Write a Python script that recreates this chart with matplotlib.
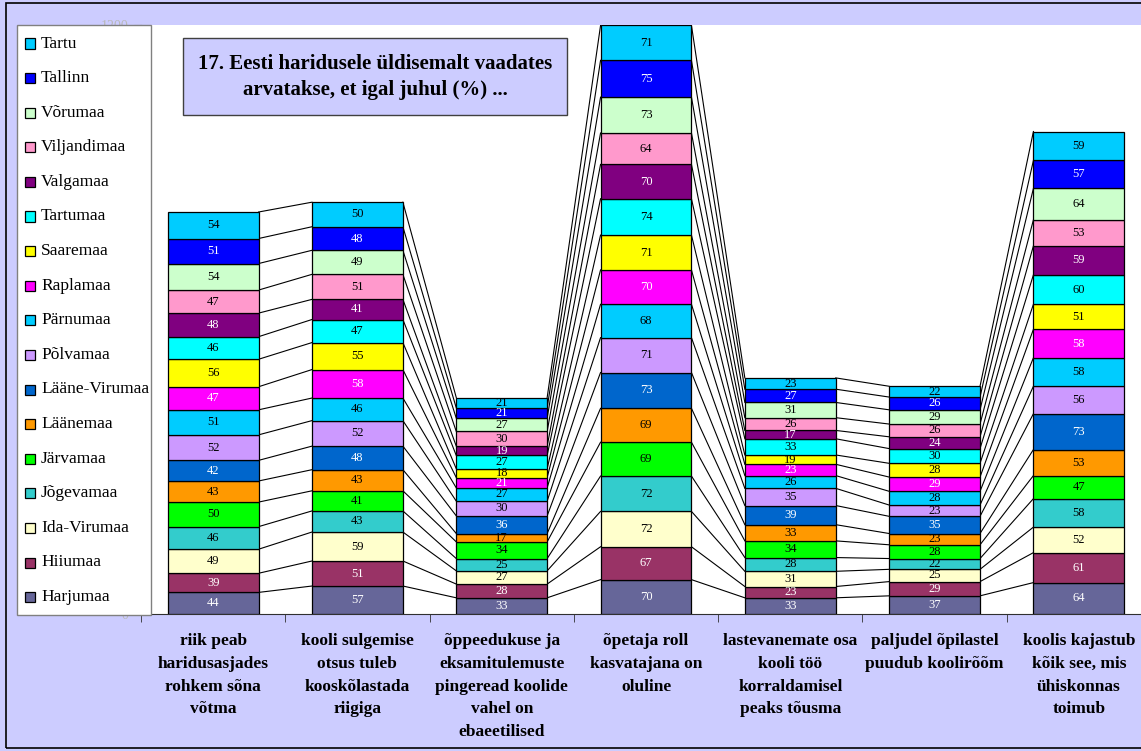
import matplotlib.pyplot as plt
from matplotlib.patches import Rectangle
import numpy as np

plt.rcParams['font.family'] = ['Liberation Serif', 'DejaVu Serif']

# regions, bottom of the stack first
regions = ['Harjumaa', 'Hiiumaa', 'Ida-Virumaa', 'Jõgevamaa', 'Järvamaa',
           'Läänemaa', 'Lääne-Virumaa', 'Põlvamaa', 'Pärnumaa', 'Raplamaa',
           'Saaremaa', 'Tartumaa', 'Valgamaa', 'Viljandimaa', 'Võrumaa',
           'Tallinn', 'Tartu']
colors = ['#666699', '#993366', '#FFFFCC', '#33CCCC', '#00FF00',
          '#FF9900', '#0066CC', '#CC99FF', '#00CCFF', '#FF00FF',
          '#FFFF00', '#00FFFF', '#800080', '#FF99CC', '#CCFFCC',
          '#0000FF', '#00CCFF']
dark = {'Harjumaa', 'Hiiumaa', 'Lääne-Virumaa', 'Raplamaa', 'Valgamaa', 'Tallinn'}

statements = ['riik peab\nharidusasjades\nrohkem sõna\nvõtma',
              'kooli sulgemise\notsus tuleb\nkooskõlastada\nriigiga',
              'õppeedukuse ja\neksamitulemuste\npingeread koolide\nvahel on\nebaeetilised',
              'õpetaja roll\nkasvatajana on\noluline',
              'lastevanemate osa\nkooli töö\nkorraldamisel\npeaks tõusma',
              'paljudel õpilastel\npuudub koolirõõm',
              'koolis kajastub\nkõik see, mis\nühiskonnas\ntoimub']

# percent per statement, one list per region (same order as regions)
harjumaa = [44, 57, 33, 70, 33, 37, 64]
hiiumaa = [39, 51, 28, 67, 23, 29, 61]
ida_virumaa = [49, 59, 27, 72, 31, 25, 52]
jogevamaa = [46, 43, 25, 72, 28, 22, 58]
jarvamaa = [50, 41, 34, 69, 34, 28, 47]
laanemaa = [43, 43, 17, 69, 33, 23, 53]
laane_virumaa = [42, 48, 36, 73, 39, 35, 73]
polvamaa = [52, 52, 30, 71, 35, 23, 56]
parnumaa = [51, 46, 27, 68, 26, 28, 58]
raplamaa = [47, 58, 21, 70, 23, 29, 58]
saaremaa = [56, 55, 18, 71, 19, 28, 51]
tartumaa = [46, 47, 27, 74, 33, 30, 60]
valgamaa = [48, 41, 19, 70, 17, 24, 59]
viljandimaa = [47, 51, 30, 64, 26, 26, 53]
vorumaa = [54, 49, 27, 73, 31, 29, 64]
tallinn = [51, 48, 21, 75, 27, 26, 57]
tartu = [54, 50, 21, 71, 23, 22, 59]

values = np.array([harjumaa, hiiumaa, ida_virumaa, jogevamaa, jarvamaa,
                   laanemaa, laane_virumaa, polvamaa, parnumaa, raplamaa,
                   saaremaa, tartumaa, valgamaa, viljandimaa, vorumaa,
                   tallinn, tartu])

W, H = 1141, 751
def fx(x):
    return x / W
def fy(y):
    return 1 - y / H

fig = plt.figure(figsize=(W / 100, H / 100), dpi=100)
fig.patch.set_facecolor('#CCCCFF')
fig.add_artist(Rectangle((fx(6), fy(748)), fx(1200), fy(3) - fy(748),
                         transform=fig.transFigure, fill=False,
                         edgecolor='black', lw=1.2))

ax = fig.add_axes([fx(141), fy(614), fx(1010), fy(25) - fy(614)])
ax.set_facecolor('white')
ax.set_xlim(-0.5, 6.5)
ax.set_ylim(0, 1200)

x = np.arange(len(statements))
width = 0.63
bottom = np.zeros(len(statements))
tops = []
for name, vals, col in zip(regions, values, colors):
    ax.bar(x, vals, width, bottom=bottom, color=col, edgecolor='black',
           linewidth=0.9, zorder=3)
    tc = 'white' if name in dark else 'black'
    for xi, b, v in zip(x, bottom, vals):
        ax.text(xi, b + v / 2, str(v), ha='center', va='center',
                fontsize=9, color=tc, zorder=4)
    bottom = bottom + vals
    tops.append(bottom.copy())

# series lines between neighbouring stacks
for t in tops:
    for i in range(len(x) - 1):
        ax.plot([x[i] + width / 2, x[i + 1] - width / 2], [t[i], t[i + 1]],
                color='black', lw=0.8, zorder=2)

for s in ['top', 'right']:
    ax.spines[s].set_visible(False)
ax.spines['left'].set_color('#a0a0a0')
ax.spines['bottom'].set_color('#303030')
ax.set_yticks([0, 1200])
ax.set_yticklabels(['0', '1200'], color='#b8b8b8', fontsize=10)
ax.tick_params(axis='y', length=5, color='#a0a0a0', pad=4)
ax.set_xticks(x)
ax.set_xticklabels(statements, fontsize=12.5, fontweight='bold', linespacing=1.55)
ax.set_xticks(np.arange(-0.5, 7, 1), minor=True)
ax.tick_params(axis='x', which='major', length=0, pad=14)
ax.tick_params(axis='x', which='minor', length=6, color='#303030')

# legend box, Tartu on top
fig.add_artist(Rectangle((fx(17), fy(615)), fx(134), fy(25) - fy(615),
                         transform=fig.transFigure, facecolor='white',
                         edgecolor='#808080', lw=1, zorder=10))
for k, (name, col) in enumerate(zip(regions[::-1], colors[::-1])):
    yc = 43.5 + k * 34.6
    fig.add_artist(Rectangle((fx(25), fy(yc + 5)), fx(10), fy(yc - 5) - fy(yc + 5),
                             transform=fig.transFigure, facecolor=col,
                             edgecolor='black', lw=0.9, zorder=11))
    fig.text(fx(41), fy(yc), name, fontsize=12.5, va='center', ha='left', zorder=11)

# title box
fig.add_artist(Rectangle((fx(183), fy(115)), fx(384), fy(38) - fy(115),
                         transform=fig.transFigure, facecolor='#CCCCFF',
                         edgecolor='#404040', lw=1, zorder=10))
fig.text(fx(375), fy(77), '17. Eesti haridusele üldisemalt vaadates\narvatakse, et igal juhul (%) ...',
         fontsize=15, fontweight='bold', ha='center', va='center',
         linespacing=1.4, zorder=11)

fig.savefig('out.png', dpi=100, facecolor=fig.get_facecolor())
